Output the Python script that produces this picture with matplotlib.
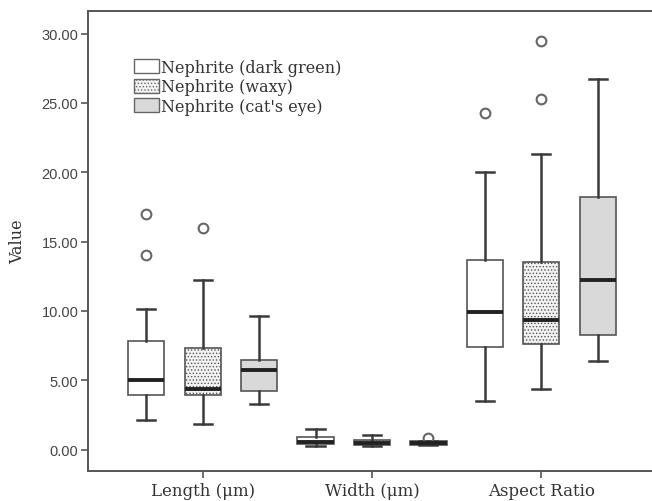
import matplotlib.pyplot as plt
from matplotlib.patches import Patch

plt.rcParams['hatch.color'] = '#8a8a8a'
plt.rcParams['hatch.linewidth'] = 0.6

groups = ['Length (\u03bcm)', 'Width (\u03bcm)', 'Aspect Ratio']
series = ['Nephrite (dark green)', 'Nephrite (waxy)', "Nephrite (cat's eye)"]

# five-number summaries per group: whisker low, Q1, median, Q3, whisker high
dark_green_stats = [[2.15, 3.9, 5.05, 7.8, 10.15],
                    [0.28, 0.42, 0.55, 0.92, 1.45],
                    [3.5, 7.4, 9.95, 13.7, 20.0]]
dark_green_outliers = [[14.0, 17.0], [], [24.3]]

waxy_stats = [[1.85, 3.9, 4.4, 7.3, 12.2],
              [0.25, 0.34, 0.5, 0.72, 1.05],
              [4.4, 7.6, 9.35, 13.55, 21.3]]
waxy_outliers = [[16.0], [], [25.3, 29.45]]

cats_eye_stats = [[3.25, 4.2, 5.75, 6.45, 9.65],
                  [0.3, 0.34, 0.45, 0.6, 0.6],
                  [6.4, 8.25, 12.2, 18.25, 26.75]]
cats_eye_outliers = [[], [0.85], []]

all_stats = [dark_green_stats, waxy_stats, cats_eye_stats]
all_outliers = [dark_green_outliers, waxy_outliers, cats_eye_outliers]
face_colors = ['white', '#f2f2f2', '#d9d9d9']
hatches = [None, '.....', None]

line_col = '#3a3a3a'
text_col = '#333333'

fig = plt.figure(figsize=(6.52, 5.02), dpi=100)
ax = fig.add_axes([0.135, 0.06, 0.865, 0.916])

for s in range(len(series)):
    stats = []
    for g in range(len(groups)):
        lo, q1, med, q3, hi = all_stats[s][g]
        stats.append(dict(whislo=lo, q1=q1, med=med, q3=q3, whishi=hi,
                          fliers=all_outliers[s][g]))
    pos = [g * 3 + s + 1 for g in range(len(groups))]
    bp = ax.bxp(stats, positions=pos, widths=0.64, capwidths=0.32,
                patch_artist=True, manage_ticks=False,
                boxprops=dict(edgecolor='#555555', linewidth=1.2),
                medianprops=dict(color='#222222', linewidth=2.8),
                whiskerprops=dict(color=line_col, linewidth=1.8),
                capprops=dict(color=line_col, linewidth=1.8),
                flierprops=dict(marker='o', markerfacecolor='none',
                                markeredgecolor='#666666', markersize=7,
                                markeredgewidth=1.5))
    for box in bp['boxes']:
        box.set_facecolor(face_colors[s])
        if hatches[s]:
            box.set_hatch(hatches[s])

ax.set_xlim(-0.03, 9.96)
ax.set_ylim(-1.54, 31.63)
ax.set_yticks([0, 5, 10, 15, 20, 25, 30])
ax.set_yticklabels(['%.2f' % v for v in [0, 5, 10, 15, 20, 25, 30]],
                   family='Liberation Sans', fontsize=10.5, color='#444444')
ax.set_xticks([2, 5, 8])
ax.set_xticklabels(groups, family='DejaVu Serif', fontsize=12, color=text_col)
ax.tick_params(axis='both', direction='out', length=5, width=1.2, color='#555555')
ax.tick_params(axis='x', pad=3)
ax.tick_params(axis='y', pad=2)
ax.set_ylabel('Value', family='DejaVu Serif', fontsize=11.5, color=text_col,
              labelpad=11)

ax.spines['right'].set_visible(False)
for sp in ['left', 'top', 'bottom']:
    ax.spines[sp].set_color('#555555')
    ax.spines[sp].set_linewidth(1.4)

handles = [Patch(facecolor=face_colors[i], edgecolor='#666666',
                 hatch=hatches[i], label=series[i]) for i in range(3)]
leg = ax.legend(handles=handles, loc='upper left', bbox_to_anchor=(0.071, 0.91),
                frameon=False, prop=dict(family='DejaVu Serif', size=11.5),
                handlelength=1.55, handleheight=1.0, handletextpad=0.1,
                labelspacing=0.15, borderaxespad=0)
for t in leg.get_texts():
    t.set_color(text_col)

fig.savefig('out.png', dpi=100)
